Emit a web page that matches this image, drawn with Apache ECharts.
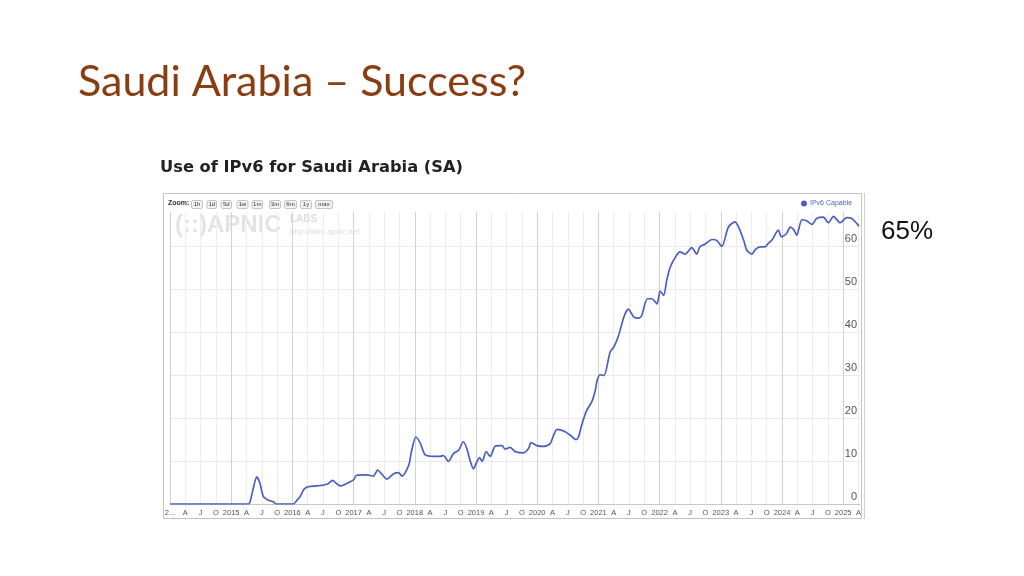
<!DOCTYPE html>
<html>
<head>
<meta charset="utf-8">
<script src="https://cdn.jsdelivr.net/npm/echarts@6/dist/echarts.min.js"></script>
<style>
html,body{margin:0;padding:0;background:#fff;}
#chart{width:1024px;height:576px;}
</style>
</head>
<body>
<div id="chart"></div>
<script>
const slideTitle = 'Saudi Arabia – Success?';
const chartTitle = 'Use of IPv6 for Saudi Arabia (SA)';
const seriesName = 'IPv6 Capable';
const noteText = '65%';
const zoomButtons = ['1h','1d','5d','1w','1m','3m','6m','1y','max'];
const quarterLabels = ['A','J','O'];
const firstYearLabel = '2...';

const dates = [
'2014-01-01','2015-04-13','2015-04-28','2015-05-16','2015-06-01','2015-06-19','2015-07-10','2015-08-10','2015-09-10','2015-09-25',
'2016-01-07','2016-01-28','2016-02-16','2016-03-07','2016-03-25','2016-04-22','2016-05-25','2016-07-25','2016-08-28','2016-09-19',
'2016-10-13','2016-11-22','2017-01-01','2017-01-19','2017-03-19','2017-04-28','2017-05-22','2017-06-16','2017-07-16','2017-08-25',
'2017-09-25','2017-10-16','2017-11-25','2017-12-13','2018-01-07','2018-02-04','2018-03-01','2018-04-22','2018-06-01','2018-06-19',
'2018-07-19','2018-08-19','2018-09-19','2018-10-16','2018-11-07','2018-11-28','2018-12-16','2019-01-07','2019-01-22','2019-02-07',
'2019-03-01','2019-03-25','2019-04-25','2019-06-04','2019-06-22','2019-07-22','2019-08-22','2019-10-10','2019-11-10','2019-11-25',
'2019-12-28','2020-02-07','2020-03-16','2020-04-28','2020-06-07','2020-07-16','2020-08-19','2020-09-04','2020-09-25','2020-10-22',
'2020-11-22','2020-12-13','2020-12-25','2021-01-13','2021-02-04','2021-03-10','2021-04-01','2021-04-28','2021-06-04','2021-06-28',
'2021-07-28','2021-08-28','2021-09-16','2021-10-19','2021-11-16','2021-12-16','2022-01-04','2022-01-25','2022-02-13','2022-03-04',
'2022-04-04','2022-05-01','2022-06-01','2022-07-10','2022-08-10','2022-08-28','2022-09-28','2022-11-10','2022-12-07','2023-01-07',
'2023-02-16','2023-03-25','2023-04-16','2023-05-16','2023-06-04','2023-07-04','2023-07-25','2023-08-22','2023-09-22','2023-10-13',
'2023-11-01','2023-12-10','2023-12-28','2024-01-28','2024-02-19','2024-03-10','2024-03-28','2024-04-28','2024-05-28','2024-06-28',
'2024-07-25','2024-09-04','2024-10-04','2024-11-04','2024-12-13','2025-01-22','2025-02-22','2025-03-22','2025-04-04'
];
const ipv6 = [
0,0,1.5,4.5,6.3,5.0,1.8,0.9,0.5,0,
0,0.9,1.7,3.3,3.9,4.1,4.2,4.6,5.5,4.8,
4.2,4.8,5.6,6.7,6.8,6.5,7.9,7.0,5.8,7.0,
7.3,6.5,9.0,12.5,15.6,14.1,11.5,11.1,11.1,11.3,
9.9,11.8,12.5,14.5,12.9,9.9,8.2,9.9,10.8,9.9,
12.2,11.1,13.5,13.6,12.8,13.2,12.2,11.9,12.9,14.3,
13.6,13.4,14.0,17.4,17.0,16.0,15.0,15.6,18.7,21.8,
23.8,26.5,29.0,30.1,29.9,35.4,36.5,39.0,43.9,45.4,
43.6,43.3,43.9,47.8,47.8,46.6,49.6,48.6,52.1,55.2,
57.5,58.7,58.2,59.7,58.2,59.9,60.5,61.6,61.4,60.0,
64.5,65.7,64.5,61.4,59.1,58.2,59.3,59.9,59.9,60.8,
61.4,63.8,62.2,63.0,64.5,63.9,62.6,66.2,65.9,65.1,
66.5,66.8,65.5,67.0,65.5,66.7,66.5,65.3,64.7
];
const startYear = 2014;

function toMonths(s){
  const p = s.split('-').map(Number);
  return (p[0]-startYear)*12 + (p[1]-1) + (p[2]-1)/30;
}
const seriesData = dates.map((d,i)=>[toMonths(d), ipv6[i]]);

const lineColor = '#4b5fc3';
const chart = echarts.init(document.getElementById('chart'), null, {renderer:'canvas'});

const graphics = [];
// chart frame
graphics.push({type:'rect', shape:{x:163.5,y:193.5,width:698,height:325}, style:{fill:'none',stroke:'#c4c4c4',lineWidth:1}, z:1});
graphics.push({type:'line', shape:{x1:864.5,y1:193,x2:864.5,y2:519}, style:{stroke:'#d0d0d0',lineWidth:1}, z:1});
// slide title
graphics.push({type:'text', left:78, top:61, style:{text:slideTitle, font:'43px Lato', fill:'#8a3d12'}});
graphics.push({type:'text', left:160, top:160, style:{text:chartTitle, font:'bold 16.3px "DejaVu Sans"', fill:'#222'}});
graphics.push({type:'text', left:881, top:219, style:{text:noteText, font:'26px "Liberation Sans"', fill:'#111'}});
// watermark
graphics.push({type:'text', left:175, top:213, style:{text:'(::)APNIC', font:'bold 24px "Liberation Sans"', fill:'#e4e4e4'}, z:0});
graphics.push({type:'text', left:290, top:214, style:{text:'LABS', font:'bold 10px "Liberation Sans"', fill:'#dedede'}, z:0});
graphics.push({type:'text', left:290, top:228, style:{text:'http://labs.apnic.net', font:'8px "Liberation Sans"', fill:'#dadada'}, z:0});
// zoom buttons
graphics.push({type:'text', left:168, top:200, style:{text:'Zoom:', font:'bold 7px "Liberation Sans"', fill:'#333'}});
const btnX = [191,206.5,220.5,236.5,251.5,269,284,300,315];
const btnW = [11,9.5,10.5,11,10.5,11,12,11,17];
zoomButtons.forEach((b,i)=>{
  graphics.push({type:'rect', shape:{x:btnX[i]+0.5,y:200.5,width:btnW[i],height:8,r:1.5}, style:{fill:'#f3f3f3',stroke:'#b8b8b8',lineWidth:0.8}});
  graphics.push({type:'text', x:btnX[i]+btnW[i]/2+0.5, y:204.5, style:{text:b, font:'6px "Liberation Sans"', fill:'#333', align:'center', verticalAlign:'middle'}});
});

chart.setOption({
  animation:false,
  backgroundColor:'#fff',
  grid:{left:170, right:164, top:212, bottom:72, containLabel:false},
  legend:{
    data:[seriesName], left:801, top:200, icon:'circle', itemWidth:6, itemHeight:6, itemGap:4, padding:0,
    textStyle:{fontSize:7, color:lineColor, fontFamily:'Liberation Sans', padding:[0,0,0,-2]}
  },
  xAxis:{
    type:'value', min:0, max:135.3, interval:3,
    axisLine:{show:true, lineStyle:{color:'#c8c8c8'}},
    axisTick:{show:false},
    axisLabel:{
      fontSize:7.5, color:'#555', fontFamily:'Liberation Sans', margin:5,
      showMaxLabel:true, showMinLabel:true,
      formatter:function(v){
        const r = Math.round(v);
        if (Math.abs(v-r)>1e-6 || r%3!==0) return '';
        const q = (r%12)/3;
        if (q===0) return r===0 ? firstYearLabel : String(startYear + r/12);
        return quarterLabels[q-1];
      }
    },
    splitLine:{show:true, showMaxLine:false, lineStyle:{color:['#d2d2d2','#ededed','#ededed','#ededed'], width:1}}
  },
  yAxis:{
    type:'value', position:'right', min:0, max:68, interval:10,
    axisLine:{show:false}, axisTick:{show:false},
    axisLabel:{
      inside:true, fontSize:11, color:'#555', fontFamily:'Liberation Sans', margin:3,
      verticalAlign:'bottom', padding:[0,0,2,0],
      formatter:function(v){ return (v%10===0) ? String(v) : ''; }
    },
    splitLine:{show:true, showMaxLine:false, lineStyle:{color:'#e9e9e9', width:1}}
  },
  series:[{
    name:seriesName, type:'line', data:seriesData, showSymbol:false, smooth:0.25,
    itemStyle:{color:lineColor},
    lineStyle:{color:lineColor, width:1.7}, z:5
  }],
  graphic:graphics
});
</script>
</body>
</html>
